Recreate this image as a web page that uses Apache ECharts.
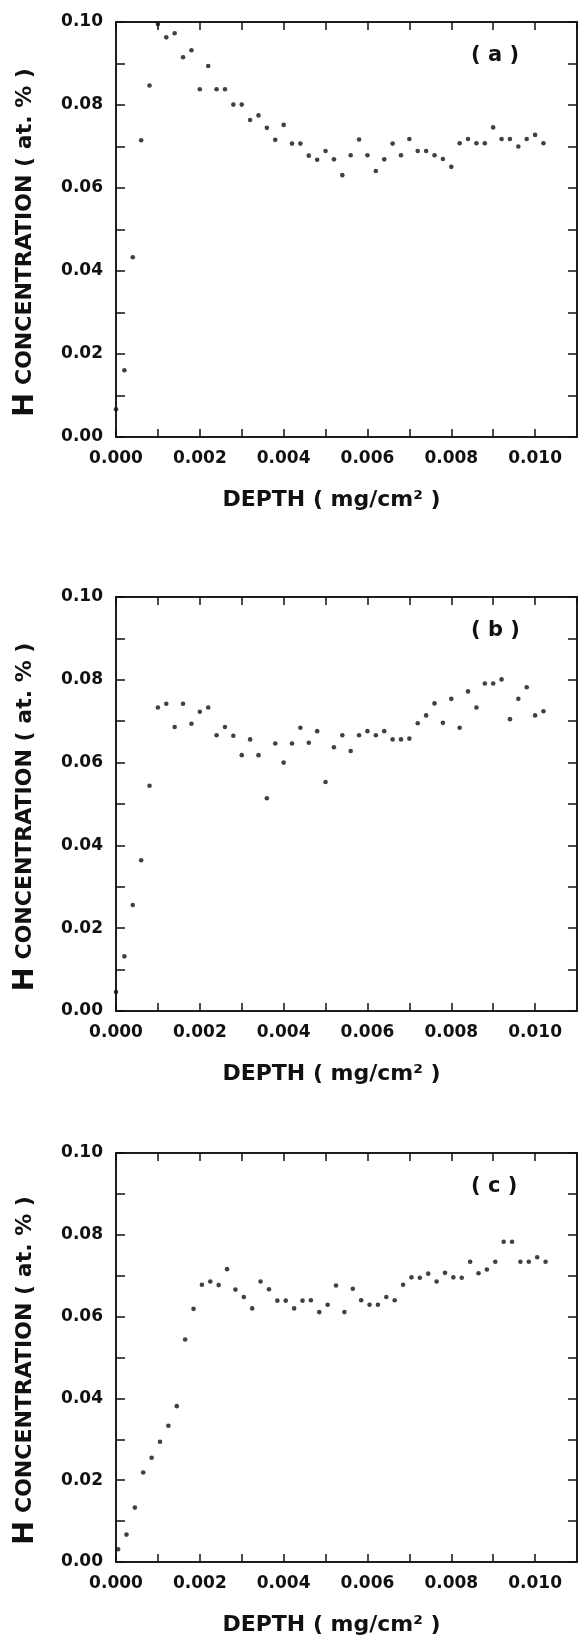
<!DOCTYPE html>
<html><head><meta charset="utf-8">
<script src="https://cdn.jsdelivr.net/npm/echarts@6/dist/echarts.min.js"></script>
<style>html,body{margin:0;padding:0;background:#fff}#c{width:579px;height:1637px}</style>
</head><body><div id="c"></div>
<script>
// Depth (mg/cm^2) for panels (a) and (b)
const depthAB = [0.0000,0.0002,0.0004,0.0006,0.0008,0.0010,0.0012,0.0014,0.0016,0.0018,
  0.0020,0.0022,0.0024,0.0026,0.0028,0.0030,0.0032,0.0034,0.0036,0.0038,
  0.0040,0.0042,0.0044,0.0046,0.0048,0.0050,0.0052,0.0054,0.0056,0.0058,
  0.0060,0.0062,0.0064,0.0066,0.0068,0.0070,0.0072,0.0074,0.0076,0.0078,
  0.0080,0.0082,0.0084,0.0086,0.0088,0.0090,0.0092,0.0094,0.0096,0.0098,
  0.0100,0.0102];
// Depth (mg/cm^2) for panel (c)
const depthC = [0.00005,0.00025,0.00045,0.00065,0.00085,0.00105,0.00125,0.00145,0.00165,0.00185,
  0.00205,0.00225,0.00245,0.00265,0.00285,0.00305,0.00325,0.00345,0.00365,0.00385,
  0.00405,0.00425,0.00445,0.00465,0.00485,0.00505,0.00525,0.00545,0.00565,0.00585,
  0.00605,0.00625,0.00645,0.00665,0.00685,0.00705,0.00725,0.00745,0.00765,0.00785,
  0.00805,0.00825,0.00845,0.00865,0.00885,0.00905,0.00925,0.00945,0.00965,0.00985,
  0.01005,0.01025];
// H concentration (at. %)
const concA = [0.0067,0.0161,0.0433,0.0715,0.0847,0.0995,0.0963,0.0973,0.0915,0.0932,
  0.0838,0.0894,0.0838,0.0838,0.0801,0.0801,0.0764,0.0775,0.0745,0.0716,
  0.0752,0.0707,0.0707,0.0678,0.0668,0.0689,0.0669,0.0631,0.0679,0.0717,
  0.0679,0.0641,0.0669,0.0707,0.0679,0.0718,0.0689,0.0689,0.0679,0.0670,
  0.0651,0.0708,0.0718,0.0708,0.0708,0.0746,0.0718,0.0718,0.0700,0.0718,
  0.0728,0.0708];
const concB = [0.0046,0.0132,0.0256,0.0364,0.0544,0.0733,0.0742,0.0686,0.0742,0.0694,
  0.0723,0.0733,0.0666,0.0686,0.0665,0.0618,0.0656,0.0618,0.0514,0.0646,
  0.0600,0.0646,0.0684,0.0648,0.0676,0.0553,0.0637,0.0666,0.0628,0.0666,
  0.0676,0.0666,0.0676,0.0656,0.0656,0.0658,0.0695,0.0714,0.0743,0.0696,
  0.0754,0.0684,0.0772,0.0733,0.0791,0.0791,0.0801,0.0705,0.0754,0.0782,
  0.0714,0.0724];
const concC = [0.0031,0.0067,0.0133,0.0219,0.0255,0.0294,0.0333,0.0381,0.0544,0.0619,
  0.0678,0.0686,0.0677,0.0716,0.0666,0.0648,0.0620,0.0686,0.0667,0.0639,
  0.0639,0.0620,0.0639,0.0640,0.0611,0.0629,0.0676,0.0611,0.0668,0.0640,
  0.0629,0.0629,0.0648,0.0640,0.0678,0.0696,0.0695,0.0705,0.0686,0.0707,
  0.0696,0.0695,0.0734,0.0706,0.0715,0.0734,0.0783,0.0783,0.0734,0.0734,
  0.0745,0.0734];
const panelLabels = ['( a )', '( b )', '( c )'];
const xTitle = 'DEPTH ( mg/cm² )';
const yTitleFirst = 'H';
const yTitleRest = ' CONCENTRATION ( at. % )';

const panels = [
  {x: depthAB, y: concA, top: 22, height: 415},
  {x: depthAB, y: concB, top: 597, height: 414},
  {x: depthC, y: concC, top: 1153, height: 413}
];

const FONT = 'DejaVu Sans';
const black = '#111';
const grids = [], xAxes = [], yAxes = [], series = [], titles = [];

panels.forEach((p, i) => {
  grids.push({left: 116, right: 2, top: p.top, height: p.height, show: true,
    borderColor: black, borderWidth: 1.5, backgroundColor: 'transparent'});
  const xCommon = {
    type: 'value', gridIndex: i, min: 0, max: 0.011, interval: 0.001,
    axisLine: {show: true, onZero: false, lineStyle: {color: black, width: 1.5}},
    axisTick: {show: true, inside: true, length: 8, lineStyle: {color: black, width: 1.5}},
    splitLine: {show: false}
  };
  xAxes.push(Object.assign({}, xCommon, {
    position: 'bottom',
    axisLabel: {show: true, margin: 13, color: black, fontFamily: FONT, fontWeight: 'bold', fontSize: 17,
      showMaxLabel: false,
      formatter: v => (Math.round(v * 1000) % 2 === 0) ? v.toFixed(3) : ''},
    name: xTitle, nameLocation: 'middle', nameGap: 52,
    nameTextStyle: {color: black, fontFamily: FONT, fontWeight: 'bold', fontSize: 22, padding: [0, 30, 0, 0]}
  }));
  xAxes.push(Object.assign({}, xCommon, {position: 'top', axisLabel: {show: false}}));
  const yCommon = {
    type: 'value', gridIndex: i, min: 0, max: 0.1, interval: 0.01,
    axisLine: {show: true, onZero: false, lineStyle: {color: black, width: 1.5}},
    axisTick: {show: true, inside: true, length: 9, lineStyle: {color: black, width: 1.5}},
    splitLine: {show: false}
  };
  yAxes.push(Object.assign({}, yCommon, {
    position: 'left',
    axisLabel: {show: true, margin: 13, color: black, fontFamily: FONT, fontWeight: 'bold', fontSize: 17,
      formatter: v => (Math.round(v * 100) % 2 === 0) ? v.toFixed(2) : ''},
    name: '{h|' + yTitleFirst + '}' + yTitleRest,
    nameLocation: 'middle', nameRotate: 90, nameGap: 76,
    nameTextStyle: {color: black, fontFamily: FONT, fontWeight: 'bold', fontSize: 22, padding: [0, 26, 0, 0],
      rich: {h: {fontFamily: FONT, fontWeight: 'bold', fontSize: 29, color: black}}}
  }));
  yAxes.push(Object.assign({}, yCommon, {position: 'right', axisLabel: {show: false}}));
  series.push({
    type: 'scatter', xAxisIndex: 2 * i, yAxisIndex: 2 * i,
    data: p.x.map((d, k) => [d, p.y[k]]),
    symbol: 'circle', symbolSize: 4.6, itemStyle: {color: black}, clip: false, silent: true
  });
  titles.push({text: panelLabels[i], left: 466, top: p.top + 18,
    textStyle: {color: black, fontFamily: FONT, fontWeight: 'bold', fontSize: 21}});
});

const chart = echarts.init(document.getElementById('c'), null, {renderer: 'canvas'});
chart.setOption({
  animation: false, backgroundColor: '#fff',
  title: titles, grid: grids, xAxis: xAxes, yAxis: yAxes, series: series
});
</script></body></html>
